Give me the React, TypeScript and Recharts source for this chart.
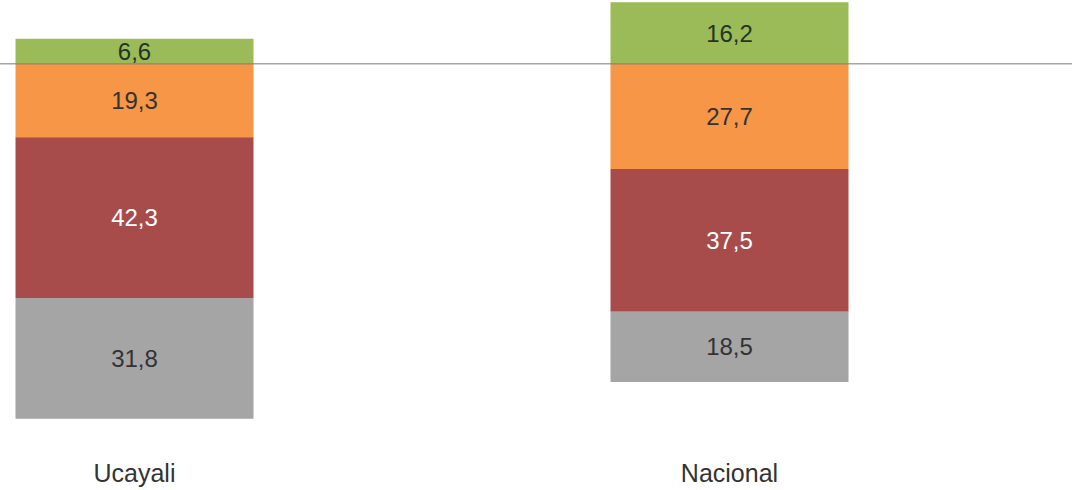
import React from 'react';
import { BarChart, Bar, XAxis, YAxis, ReferenceLine, LabelList } from 'recharts';

const categories = ['Ucayali', 'Nacional'];
// Upper segment (above zero line)
const greenValues = [6.6, 16.2];
// Lower segments (drawn below zero line, top to bottom)
const orangeValues = [19.3, 27.7];
const redValues = [42.3, 37.5];
const grayValues = [31.8, 18.5];

const data = categories.map((name, i) => ({
    name,
    green: greenValues[i],
    orange: -orangeValues[i],
    red: -redValues[i],
    gray: -grayValues[i],
}));

const fmt = (v: any) => Math.abs(Number(v)).toFixed(1).replace('.', ',');

const FONT = '"Liberation Sans", Arial, sans-serif';

const labelStyle = (fill: string) => ({
    fill,
    fontSize: 24,
    fontFamily: FONT,
});

export default function App() {
    return (
        <div style={{ position: 'absolute', left: 0, top: 0, width: 1072, height: 490, background: '#fff' }}>
            <BarChart
                width={1072}
                height={490}
                data={data}
                stackOffset="sign"
                barCategoryGap="30%"
                margin={{ top: 0, right: 0, bottom: 0, left: -163 }}
            >
                <XAxis
                    dataKey="name"
                    axisLine={false}
                    tickLine={false}
                    tickSize={0}
                    tickMargin={22}
                    height={48}
                    padding={{ left: 0, right: 45 }}
                    tick={{ fill: '#333', fontSize: 25, fontFamily: FONT }}
                />
                <YAxis hide domain={[-99.5, 16.8]} />
                <Bar dataKey="green" stackId="a" fill="#9BBB59" isAnimationActive={false}>
                    <LabelList dataKey="green" position="center" formatter={fmt} style={labelStyle('#263326')} />
                </Bar>
                <Bar dataKey="orange" stackId="a" fill="#F79646" isAnimationActive={false}>
                    <LabelList dataKey="orange" position="center" formatter={fmt} style={labelStyle('#333')} />
                </Bar>
                <Bar dataKey="red" stackId="a" fill="#A84C4B" isAnimationActive={false}>
                    <LabelList dataKey="red" position="center" formatter={fmt} style={labelStyle('#fff')} />
                </Bar>
                <Bar dataKey="gray" stackId="a" fill="#A5A5A5" isAnimationActive={false}>
                    <LabelList dataKey="gray" position="center" formatter={fmt} style={labelStyle('#333')} />
                </Bar>
                <ReferenceLine y={0} stroke="#777" strokeWidth={1} ifOverflow="visible" />
            </BarChart>
        </div>
    );
}
